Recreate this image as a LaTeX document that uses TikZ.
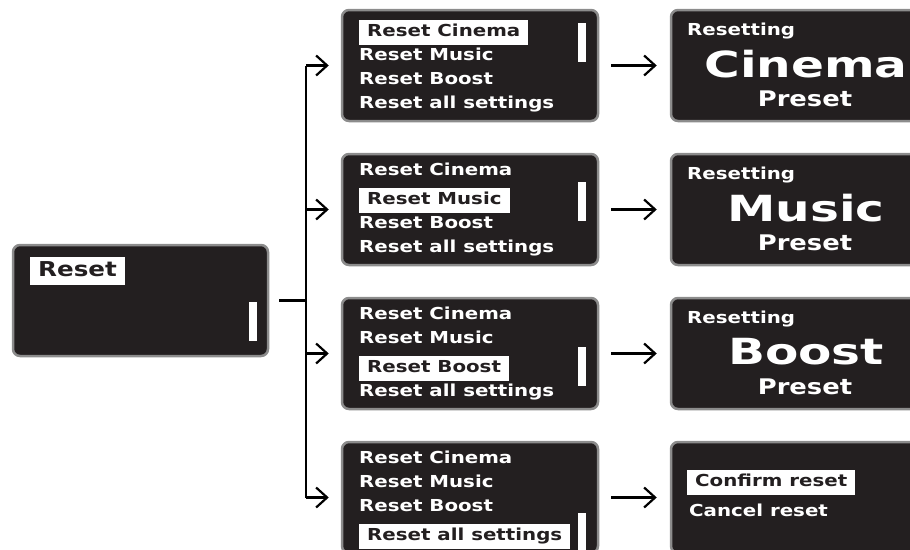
\documentclass[tikz,border=0pt]{standalone}
\usepackage{fontspec}
\newfontfamily\lcdfont[FakeStretch=1.2]{DejaVu Sans}
\newfontfamily\lcdwide[FakeStretch=1.35]{DejaVu Sans}
\usetikzlibrary{arrows.meta,positioning}
\definecolor{lcd}{HTML}{231F20}
\definecolor{rim}{HTML}{8C8C8C}

\begin{document}
\begin{tikzpicture}[x=1pt,y=-1pt,
      screen/.style={rectangle,draw=rim,line width=2.5pt,fill=lcd,
                     rounded corners=7pt,minimum width=256pt,minimum height=111pt},
      item/.style={anchor=west,text=white,inner xsep=0pt,inner ysep=4.5pt,
                   text height=12pt,text depth=4pt,
                   font=\lcdfont\bfseries\fontsize{16.5}{18}\selectfont},
      hl/.style={item,fill=white,text=lcd,inner xsep=8pt},
      hlbig/.style={hl,text height=15pt,text depth=5pt,inner ysep=4pt,
                    font=\lcdfont\bfseries\fontsize{20.5}{22}\selectfont},
      big/.style={text=white,inner sep=0pt,
                  font=\lcdwide\bfseries\fontsize{36}{40}\selectfont},
      mid/.style={text=white,inner sep=0pt,
                  font=\lcdfont\bfseries\fontsize{21.5}{24}\selectfont},
      bar/.style={fill=white,draw=none},
      wire/.style={draw,line width=2.2pt},
      single/.style={wire,-{Straight Barb[length=11pt,width=20pt]}},
    ]
      \useasboundingbox (0,0) rectangle (910,549);
      \clip (0,0) rectangle (910,549);
      % first screen
      \node[screen,minimum width=255pt] (reset) at (140.5,300.5) {};
      \node[hlbig] (reset-a) at (30,271) {Reset};
      \fill[bar] (249,302) rectangle (257,341);
      % menu screens
      \foreach \h/\s in {1/13,2/28,3/49,4/71}{
        \pgfmathsetmacro\ytop{10+144*(\h-1)}
        \node[screen] (m\h) at (470,\ytop+55.5) {};
        \foreach \t [count=\i] in {Reset Cinema,Reset Music,Reset Boost,Reset all settings}{
          \pgfmathsetmacro\yy{\ytop+17+24*(\i-1)+(\i>\h-0.5?5:0)}
          \ifnum\i=\h
            \node[hl] (m\h-\i) at (359,\yy) {\t};
          \else
            \node[item] (m\h-\i) at (359,\yy) {\t};
          \fi
        }
        \fill[bar] (578,\ytop+\s) rectangle ++(8,39);
      }
      % result screens
      \foreach \h/\w in {1/Cinema,2/Music,3/Boost}{
        \pgfmathsetmacro\ytop{10+144*(\h-1)}
        \node[screen,minimum width=262pt] (r\h) at (802,\ytop+55.5) {};
        \node[item] (r\h-a) at (687,\ytop+21) {Resetting};
        \node[big] (r\h-b) at (806,\ytop+54) {\w};
        \node[mid] (r\h-c) at (805,\ytop+89) {Preset};
      }
      \node[screen,minimum width=262pt] (r4) at (802,497.5) {};
      \node[hl] (r4-a) at (687,482) {Confirm reset};
      \node[item] (r4-b) at (689,512) {Cancel reset};
      % connectors
      \coordinate (junction) at (306,300.5);
      \draw[wire,shorten <=10pt] (reset.east) -- (junction);
      \draw[wire] (junction |- m1.west) -- (junction |- m4.west);
      \foreach \h in {1,...,4}{
        \path (junction |- m\h.west) edge[single,shorten >=12pt] (m\h.west);
        \path (m\h.east) edge[single,shorten <=12pt,shorten >=13pt] (r\h.west);
      }
    \end{tikzpicture}
\end{document}
